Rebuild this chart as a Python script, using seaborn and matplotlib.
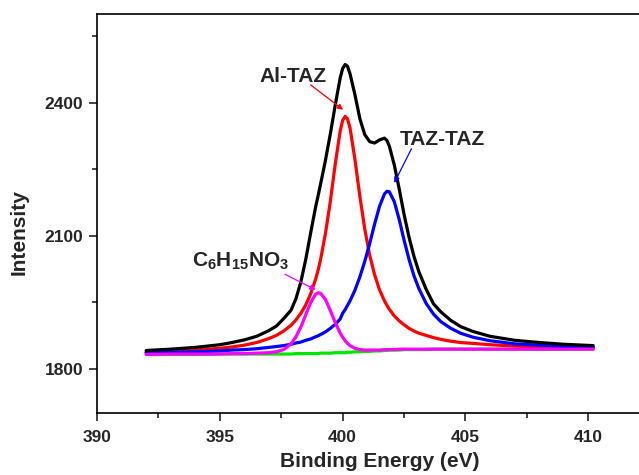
import matplotlib
matplotlib.use("Agg")
import matplotlib.pyplot as plt
from matplotlib.ticker import MultipleLocator
import seaborn as sns

# Binding energy grid (eV)
energy = [392, 393, 394, 395, 395.5, 396, 396.5, 397, 397.3, 397.6, 397.9, 398.1, 398.3, 398.5, 398.7,
          398.9, 399.0, 399.1, 399.3, 399.5, 399.7, 399.9, 400.0, 400.1, 400.2, 400.3, 400.5, 400.7, 400.9,
          401.1, 401.3, 401.5, 401.7, 401.8, 401.9, 402.1, 402.3, 402.5, 402.7, 402.9, 403.1, 403.4, 403.7,
          404.0, 404.4, 404.8, 405.3, 406, 407, 408, 409, 410.2]

# Measured envelope (black)
envelope = [1841, 1844, 1848, 1854, 1859, 1865, 1873, 1886, 1896, 1913, 1932, 1958, 1996, 2047, 2107,
            2165, 2190, 2216, 2270, 2330, 2395, 2456, 2477, 2486, 2482, 2465, 2418, 2364, 2328, 2312,
            2309, 2316, 2320, 2315, 2302, 2260, 2206, 2148, 2097, 2054, 2019, 1979, 1946, 1928, 1909,
            1895, 1884, 1873, 1864, 1859, 1855, 1852]

# Al-TAZ component (red)
al_taz = [1837, 1839, 1842, 1846, 1849, 1853, 1859, 1868, 1875, 1885, 1898, 1910, 1925, 1944, 1969,
          2002, 2022, 2046, 2105, 2178, 2262, 2336, 2360, 2369, 2363, 2343, 2272, 2189, 2115, 2056,
          2012, 1978, 1953, 1943, 1934, 1919, 1908, 1899, 1891, 1885, 1880, 1875, 1870, 1866, 1862,
          1859, 1857, 1854, 1851, 1849, 1848, 1847]

# TAZ-TAZ component (blue)
taz_taz = [1836, 1837, 1838, 1840, 1842, 1843, 1845, 1848, 1850, 1852, 1855, 1858, 1860, 1864, 1867,
           1872, 1874, 1877, 1883, 1891, 1900, 1912, 1925, 1933, 1943, 1953, 1977, 2007, 2042, 2082,
           2126, 2166, 2194, 2200, 2199, 2177, 2137, 2090, 2047, 2010, 1981, 1947, 1923, 1906, 1891,
           1880, 1871, 1863, 1856, 1853, 1850, 1849]

# C6H15NO3 component (magenta)
c6h15no3 = [1832, 1833, 1833, 1833, 1834, 1834, 1835, 1836, 1838, 1843, 1856, 1872, 1894, 1922, 1949,
            1968, 1971, 1970, 1956, 1931, 1904, 1880, 1871, 1863, 1857, 1852, 1846, 1843, 1842, 1842,
            1842, 1842, 1843, 1843, 1843, 1843, 1844, 1844, 1844, 1844, 1844, 1844, 1844, 1844, 1844,
            1844, 1844, 1844, 1844, 1844, 1844, 1844]

# Background (green)
baseline = [1832, 1832, 1832, 1833, 1833, 1833, 1833, 1833, 1833, 1833, 1833, 1834, 1834, 1834, 1834,
            1834, 1834, 1835, 1835, 1835, 1836, 1836, 1836, 1836, 1837, 1837, 1838, 1838, 1839, 1839,
            1840, 1840, 1841, 1841, 1842, 1842, 1842, 1843, 1843, 1843, 1843, 1843, 1844, 1844, 1844,
            1844, 1844, 1844, 1844, 1844, 1844, 1844]

x_ticks = [390, 395, 400, 405, 410]
y_ticks = [1800, 2100, 2400]

sns.set_style("ticks")
plt.rcParams['font.family'] = ['Liberation Sans', 'DejaVu Sans']
plt.rcParams['font.weight'] = 'bold'
plt.rcParams['mathtext.fontset'] = 'custom'
plt.rcParams['mathtext.rm'] = 'Liberation Sans:bold'
plt.rcParams['mathtext.bf'] = 'Liberation Sans:bold'
plt.rcParams['mathtext.it'] = 'Liberation Sans:bold'

fig = plt.figure(figsize=(6.39, 4.75), dpi=100)
ax = fig.add_axes([97 / 639, 1 - 413 / 475, (662 - 97) / 639, (413 - 14) / 475])

lw = 2.3
sns.lineplot(x=energy, y=baseline, color='#00e600', lw=lw, ax=ax)
sns.lineplot(x=energy, y=al_taz, color='#ff0000', lw=lw, ax=ax)
sns.lineplot(x=energy, y=taz_taz, color='#0000ff', lw=lw, ax=ax)
sns.lineplot(x=energy, y=c6h15no3, color='#ff00ff', lw=lw, ax=ax)
sns.lineplot(x=energy, y=envelope, color='#000000', lw=lw, ax=ax)

ax.set_xlim(390, 413)
ax.set_ylim(1700, 2600)
ax.set_xticks(x_ticks)
ax.set_yticks(y_ticks)
ax.xaxis.set_minor_locator(MultipleLocator(2.5))
ax.yaxis.set_minor_locator(MultipleLocator(150))
ax.tick_params(which='major', direction='out', length=6, width=1.2, labelsize=12.5)
ax.tick_params(which='minor', direction='out', length=3.5, width=1.2)
ax.tick_params(axis='x', which='major', pad=6)
ax.tick_params(axis='y', which='major', pad=4)
for lab in ax.get_xticklabels() + ax.get_yticklabels():
    lab.set_fontweight('bold')
for sp in ax.spines.values():
    sp.set_linewidth(1.2)
    sp.set_color('black')

ax.set_xlabel('Binding Energy (eV)', fontsize=15, fontweight='bold')
ax.set_ylabel('Intensity', fontsize=15, fontweight='bold')
ax.xaxis.set_label_coords(0.5, -0.098)
ax.yaxis.set_label_coords(-0.121, 0.454)

ax.text(398.0, 2459, 'Al-TAZ', fontsize=15, fontweight='bold', ha='center', va='center')
ax.annotate('', xy=(400.02, 2384), xytext=(398.7, 2440),
            arrowprops=dict(arrowstyle='-|>', color='#ff0000', lw=0.9, mutation_scale=8,
                            shrinkA=0, shrinkB=0))
ax.text(404.05, 2316, 'TAZ-TAZ', fontsize=15, fontweight='bold', ha='center', va='center')
ax.annotate('', xy=(402.1, 2219), xytext=(402.8, 2296),
            arrowprops=dict(arrowstyle='-|>', color='#0000ff', lw=0.9, mutation_scale=8,
                            shrinkA=0, shrinkB=0))
ax.text(395.83, 2041, r'$\mathbf{C_6H_{15}NO_3}$', fontsize=15, ha='center', va='center')
ax.annotate('', xy=(398.9, 1978), xytext=(397.65, 2013),
            arrowprops=dict(arrowstyle='-|>', color='#ff00ff', lw=0.9, mutation_scale=8,
                            shrinkA=0, shrinkB=0))

fig.savefig("out.png", dpi=100)
